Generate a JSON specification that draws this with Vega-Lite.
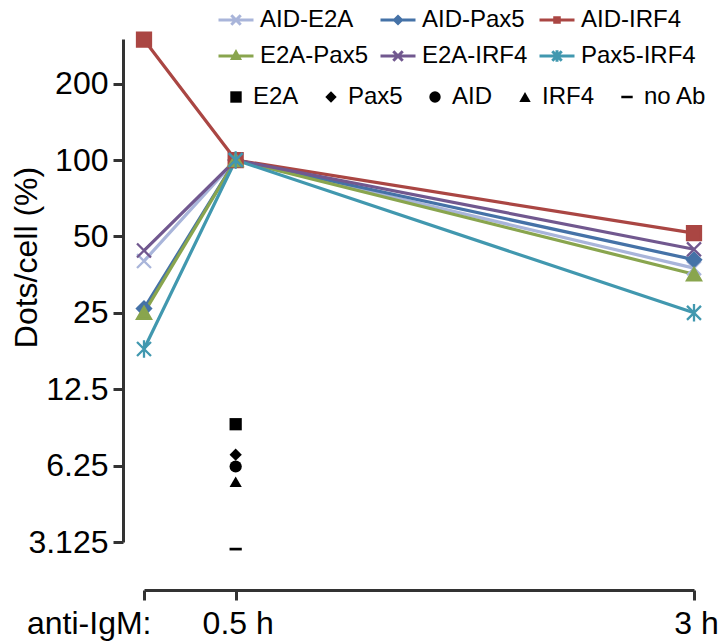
{
  "$schema": "https://vega.github.io/schema/vega-lite/v6.json",
  "width": 550,
  "height": 503,
  "autosize": {"type": "none"},
  "padding": {"left": 144, "top": 39, "right": 27, "bottom": 101},
  "background": "white",
  "config": {
    "font": "Liberation Sans",
    "view": {"stroke": null},
    "axis": {"labelColor": "black", "titleColor": "black", "domainColor": "#333333", "tickColor": "#333333"},
    "legend": {"labelColor": "black", "padding": 0, "symbolOpacity": 1}
  },
  "datasets": {
    "pairs": [
      {"series": "AID-E2A", "time": 0, "value": 40},
      {"series": "AID-E2A", "time": 0.5, "value": 100},
      {"series": "AID-E2A", "time": 3, "value": 37.5},
      {"series": "AID-Pax5", "time": 0, "value": 26},
      {"series": "AID-Pax5", "time": 0.5, "value": 100},
      {"series": "AID-Pax5", "time": 3, "value": 40.5},
      {"series": "AID-IRF4", "time": 0, "value": 298},
      {"series": "AID-IRF4", "time": 0.5, "value": 100},
      {"series": "AID-IRF4", "time": 3, "value": 51.5},
      {"series": "E2A-Pax5", "time": 0, "value": 25},
      {"series": "E2A-Pax5", "time": 0.5, "value": 100},
      {"series": "E2A-Pax5", "time": 3, "value": 35.5},
      {"series": "E2A-IRF4", "time": 0, "value": 44},
      {"series": "E2A-IRF4", "time": 0.5, "value": 100},
      {"series": "E2A-IRF4", "time": 3, "value": 44.5},
      {"series": "Pax5-IRF4", "time": 0, "value": 18},
      {"series": "Pax5-IRF4", "time": 0.5, "value": 100},
      {"series": "Pax5-IRF4", "time": 3, "value": 25}
    ],
    "single": [
      {"antibody": "E2A", "time": 0.5, "value": 9.1},
      {"antibody": "Pax5", "time": 0.5, "value": 6.9},
      {"antibody": "AID", "time": 0.5, "value": 6.2},
      {"antibody": "IRF4", "time": 0.5, "value": 5.4},
      {"antibody": "no Ab", "time": 0.5, "value": 2.93}
    ]
  },
  "layer": [
    {
      "data": {"name": "pairs"},
      "mark": {"type": "line", "strokeWidth": 3.2},
      "encoding": {
        "x": {"field": "time", "type": "quantitative", "scale": {"domain": [0, 3], "nice": false, "zero": false},
          "axis": {"values": [0, 0.5, 3], "title": null, "grid": false, "offset": 48, "tickSize": 10, "tickWidth": 3, "domainWidth": 3,
            "labelFontSize": 32, "labelPadding": 8, "labelFlush": false, "labelOverlap": false,
            "labelExpr": "datum.value == 0 ? 'anti-IgM:' : (datum.value == 0.5 ? '0.5 h' : '3 h')",
            "labelAlign": {"condition": {"test": "datum.value == 0", "value": "right"}, "value": "center"},
            "labelOffset": {"condition": {"test": "datum.value == 0", "value": 7}, "value": 2}}},
        "y": {"field": "value", "type": "quantitative", "scale": {"type": "log", "base": 2, "domain": [3.125, 300], "nice": false},
          "axis": {"values": [3.125, 6.25, 12.5, 25, 50, 100, 200], "format": "~g", "title": "Dots/cell (%)", "grid": false, "offset": 21,
            "tickSize": 10, "tickWidth": 3, "domainWidth": 3, "labelFontSize": 32, "labelPadding": 5, "labelOverlap": false,
            "titleFontSize": 32, "titleFontWeight": "normal", "titleX": -87, "titleY": 218, "titleBaseline": "alphabetic"}},
        "color": {"field": "series", "type": "nominal", "legend": null,
          "scale": {"domain": ["AID-E2A", "AID-Pax5", "AID-IRF4", "E2A-Pax5", "E2A-IRF4", "Pax5-IRF4"],
            "range": ["#a9b5da", "#4572a7", "#aa4643", "#89a54e", "#71588f", "#4198af"]}}
      }
    },
    {
      "data": {"name": "pairs"},
      "mark": {"type": "point", "filled": true, "size": 195, "strokeWidth": 2.3, "opacity": 1},
      "encoding": {
        "x": {"field": "time", "type": "quantitative"},
        "y": {"field": "value", "type": "quantitative"},
        "color": {"field": "series", "type": "nominal", "legend": null,
          "scale": {"domain": ["AID-E2A", "AID-Pax5", "AID-IRF4", "E2A-Pax5", "E2A-IRF4", "Pax5-IRF4"],
            "range": ["#a9b5da", "#4572a7", "#aa4643", "#89a54e", "#71588f", "#4198af"]}},
        "stroke": {"field": "series", "type": "nominal", "legend": null,
          "scale": {"domain": ["AID-E2A", "AID-Pax5", "AID-IRF4", "E2A-Pax5", "E2A-IRF4", "Pax5-IRF4"],
            "range": ["#a9b5da", "#4572a7", "#aa4643", "#89a54e", "#71588f", "#4198af"]}},
        "shape": {"field": "series", "type": "nominal", "legend": null,
          "scale": {"domain": ["AID-E2A", "AID-Pax5", "AID-IRF4", "E2A-Pax5", "E2A-IRF4", "Pax5-IRF4"],
            "range": ["M-1,-1L1,1M-1,1L1,-1", "diamond", "square", "triangle-up", "M-1,-1L1,1M-1,1L1,-1", "M-1,-1L1,1M-1,1L1,-1M0,-1.25V1.25"]}}
      }
    },
    {
      "data": {"name": "pairs"},
      "mark": {"type": "point", "opacity": 0, "filled": false},
      "encoding": {
        "x": {"field": "time", "type": "quantitative"},
        "y": {"field": "value", "type": "quantitative"},
        "color": {"field": "series", "type": "nominal",
          "scale": {"domain": ["AID-E2A", "AID-Pax5", "AID-IRF4", "E2A-Pax5", "E2A-IRF4", "Pax5-IRF4"],
            "range": ["#a9b5da", "#4572a7", "#aa4643", "#89a54e", "#71588f", "#4198af"]},
          "legend": {
            "orient": "none", "legendX": 73, "legendY": -38, "columns": 3, "direction": "horizontal", "title": null,
            "symbolSize": 1225, "symbolStrokeWidth": 3, "symbolOpacity": 1,
            "labelFontSize": 24, "labelOffset": 5, "columnPadding": 5, "rowPadding": 5, "labelLimit": 300
          }
        },
        "shape": {"field": "series", "type": "nominal",
          "scale": {"domain": ["AID-E2A", "AID-Pax5", "AID-IRF4", "E2A-Pax5", "E2A-IRF4", "Pax5-IRF4"],
            "range": [
              "M-1,0H1M-0.27,-0.27L0.27,0.27M-0.27,0.27L0.27,-0.27",
              "M-1,0H1M0,-0.2L0.2,0L0,0.2L-0.2,0Z",
              "M-1,0H1M-0.13,-0.13H0.13V0.13H-0.13Z",
              "M-1,0H1M0,-0.22L0.2,0.14H-0.2Z",
              "M-1,0H1M-0.27,-0.27L0.27,0.27M-0.27,0.27L0.27,-0.27",
              "M-1,0H1M-0.27,-0.27L0.27,0.27M-0.27,0.27L0.27,-0.27M0,-0.33V0.33"
            ]},
          "legend": {
            "orient": "none", "legendX": 73, "legendY": -38, "columns": 3, "direction": "horizontal", "title": null,
            "symbolSize": 1225, "symbolStrokeWidth": 3, "symbolOpacity": 1,
            "labelFontSize": 24, "labelOffset": 5, "columnPadding": 5, "rowPadding": 5, "labelLimit": 300
          }
        }
      }
    },
    {
      "data": {"name": "single"},
      "mark": {"type": "point", "filled": true, "size": 150, "color": "black", "opacity": 1},
      "encoding": {
        "x": {"field": "time", "type": "quantitative"},
        "y": {"field": "value", "type": "quantitative"},
        "shape": {"field": "antibody", "type": "nominal",
          "scale": {"domain": ["E2A", "Pax5", "AID", "IRF4", "no Ab"],
            "range": ["square", "diamond", "circle", "triangle-up", "M-1,-0.22H1V0.22H-1Z"]},
          "legend": {
            "orient": "none", "legendX": 80, "legendY": 46, "direction": "horizontal", "columns": 5, "title": null,
            "symbolSize": 130, "labelFontSize": 24, "labelOffset": 5, "columnPadding": 20, "labelLimit": 200
          }
        }
      }
    }
  ],
  "resolve": {
    "scale": {"shape": "independent", "color": "independent"},
    "legend": {"shape": "independent", "color": "independent"}
  }
}
